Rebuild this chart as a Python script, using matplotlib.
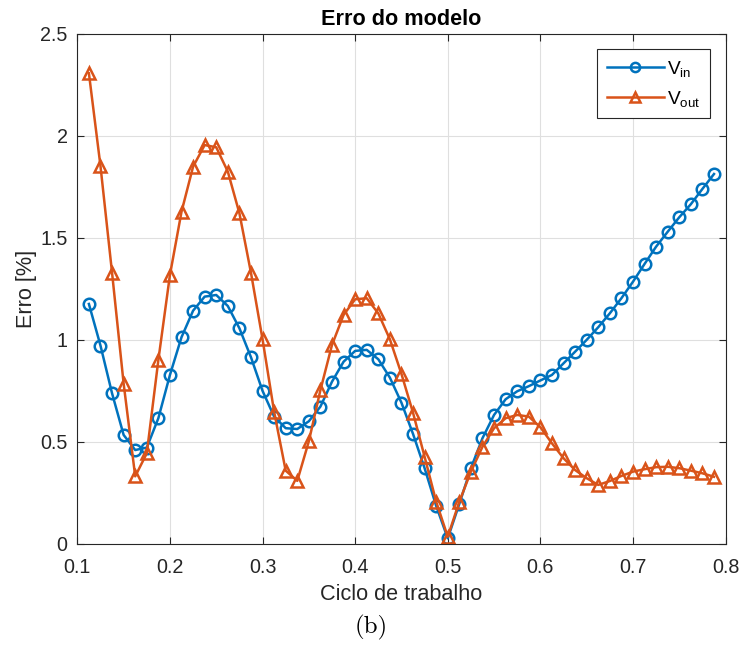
import matplotlib
matplotlib.use("Agg")
import matplotlib.pyplot as plt
import numpy as np

# duty cycle samples: 0.1125 .. 0.7875, step 0.0125
X_START = 0.1125
X_STEP = 0.0125

ERR_VIN = [
    1.175, 0.971, 0.737, 0.533, 0.459, 0.471, 0.615, 0.827, 1.012, 1.142,
    1.211, 1.219, 1.165, 1.056, 0.914, 0.749, 0.623, 0.566, 0.562, 0.600,
    0.672, 0.794, 0.892, 0.945, 0.950, 0.904, 0.814, 0.691, 0.538, 0.370,
    0.185, 0.026, 0.195, 0.370, 0.517, 0.631, 0.708, 0.747, 0.772, 0.800,
    0.827, 0.884, 0.941, 0.999, 1.061, 1.129, 1.203, 1.284, 1.371, 1.456,
    1.529, 1.600, 1.664, 1.739, 1.812,
]

ERR_VOUT = [
    2.306, 1.851, 1.328, 0.785, 0.330, 0.443, 0.900, 1.317, 1.627, 1.848,
    1.954, 1.943, 1.824, 1.620, 1.328, 1.002, 0.647, 0.358, 0.308, 0.502,
    0.753, 0.974, 1.121, 1.198, 1.203, 1.129, 1.002, 0.832, 0.642, 0.426,
    0.206, 0.034, 0.206, 0.353, 0.475, 0.566, 0.615, 0.631, 0.623, 0.571,
    0.492, 0.419, 0.361, 0.321, 0.288, 0.307, 0.332, 0.353, 0.365, 0.375,
    0.377, 0.370, 0.358, 0.345, 0.328,
]

X_TICKS = [0.1, 0.2, 0.3, 0.4, 0.5, 0.6, 0.7, 0.8]
Y_TICKS = [0, 0.5, 1, 1.5, 2, 2.5]
Y_TICKLABELS = ["0", "0.5", "1", "1.5", "2", "2.5"]

BLUE = "#0072BD"
ORANGE = "#D95319"
AX_COLOR = "#262626"


def main():
    plt.rcParams.update({
        "font.family": ["Liberation Sans", "DejaVu Sans"],
        "mathtext.fontset": "custom",
        "mathtext.rm": "Liberation Sans",
        "mathtext.it": "Liberation Sans",
        "xtick.direction": "in",
        "ytick.direction": "in",
        "xtick.top": True,
        "ytick.right": True,
    })

    x = X_START + X_STEP * np.arange(len(ERR_VIN))

    fig = plt.figure(figsize=(7.4, 6.46), dpi=100)
    ax = fig.add_axes([0.1045, 0.1584, 0.876, 0.7895])

    ax.plot(x, ERR_VIN, color=BLUE, linewidth=1.8, marker="o", markersize=8.3,
            markerfacecolor="none", markeredgewidth=1.8, label=r"V$_{\mathrm{in}}$")
    ax.plot(x, ERR_VOUT, color=ORANGE, linewidth=1.8, marker="^", markersize=9,
            markerfacecolor="none", markeredgewidth=1.8, label=r"V$_{\mathrm{out}}$")

    ax.set_xlim(0.1, 0.8)
    ax.set_ylim(0, 2.5)
    ax.set_xticks(X_TICKS)
    ax.set_xticklabels([f"{t:g}" for t in X_TICKS])
    ax.set_yticks(Y_TICKS)
    ax.set_yticklabels(Y_TICKLABELS)
    ax.tick_params(labelsize=14.2, colors=AX_COLOR, length=5, width=0.8)
    ax.tick_params(axis="x", pad=10.2)
    ax.tick_params(axis="y", pad=7)
    for s in ax.spines.values():
        s.set_color(AX_COLOR)
        s.set_linewidth(0.8)
    ax.grid(True, color="#DFDFDF", linewidth=0.8)
    ax.set_axisbelow(True)

    ax.set_title("Erro do modelo", fontsize=15.6, fontweight="bold", color="black", pad=6)
    ax.set_xlabel("Ciclo de trabalho", fontsize=15.6, color=AX_COLOR, labelpad=5)
    ax.set_ylabel("Erro [%]", fontsize=15.6, color=AX_COLOR, labelpad=2)

    leg = ax.legend(loc="upper right", fontsize=13.8, fancybox=False, framealpha=1,
                    edgecolor=AX_COLOR, handlelength=3.0, handletextpad=0.15,
                    borderpad=0.5, labelspacing=0.52, borderaxespad=0,
                    markerscale=0.8, bbox_to_anchor=(0.976, 0.970))
    leg.get_frame().set_linewidth(0.8)

    fig.text(0.502, 0.0286, "(b)", fontsize=18, family="cmr10", ha="center", va="center")

    fig.savefig("out.png", dpi=100)
    plt.close(fig)


if __name__ == "__main__":
    main()
